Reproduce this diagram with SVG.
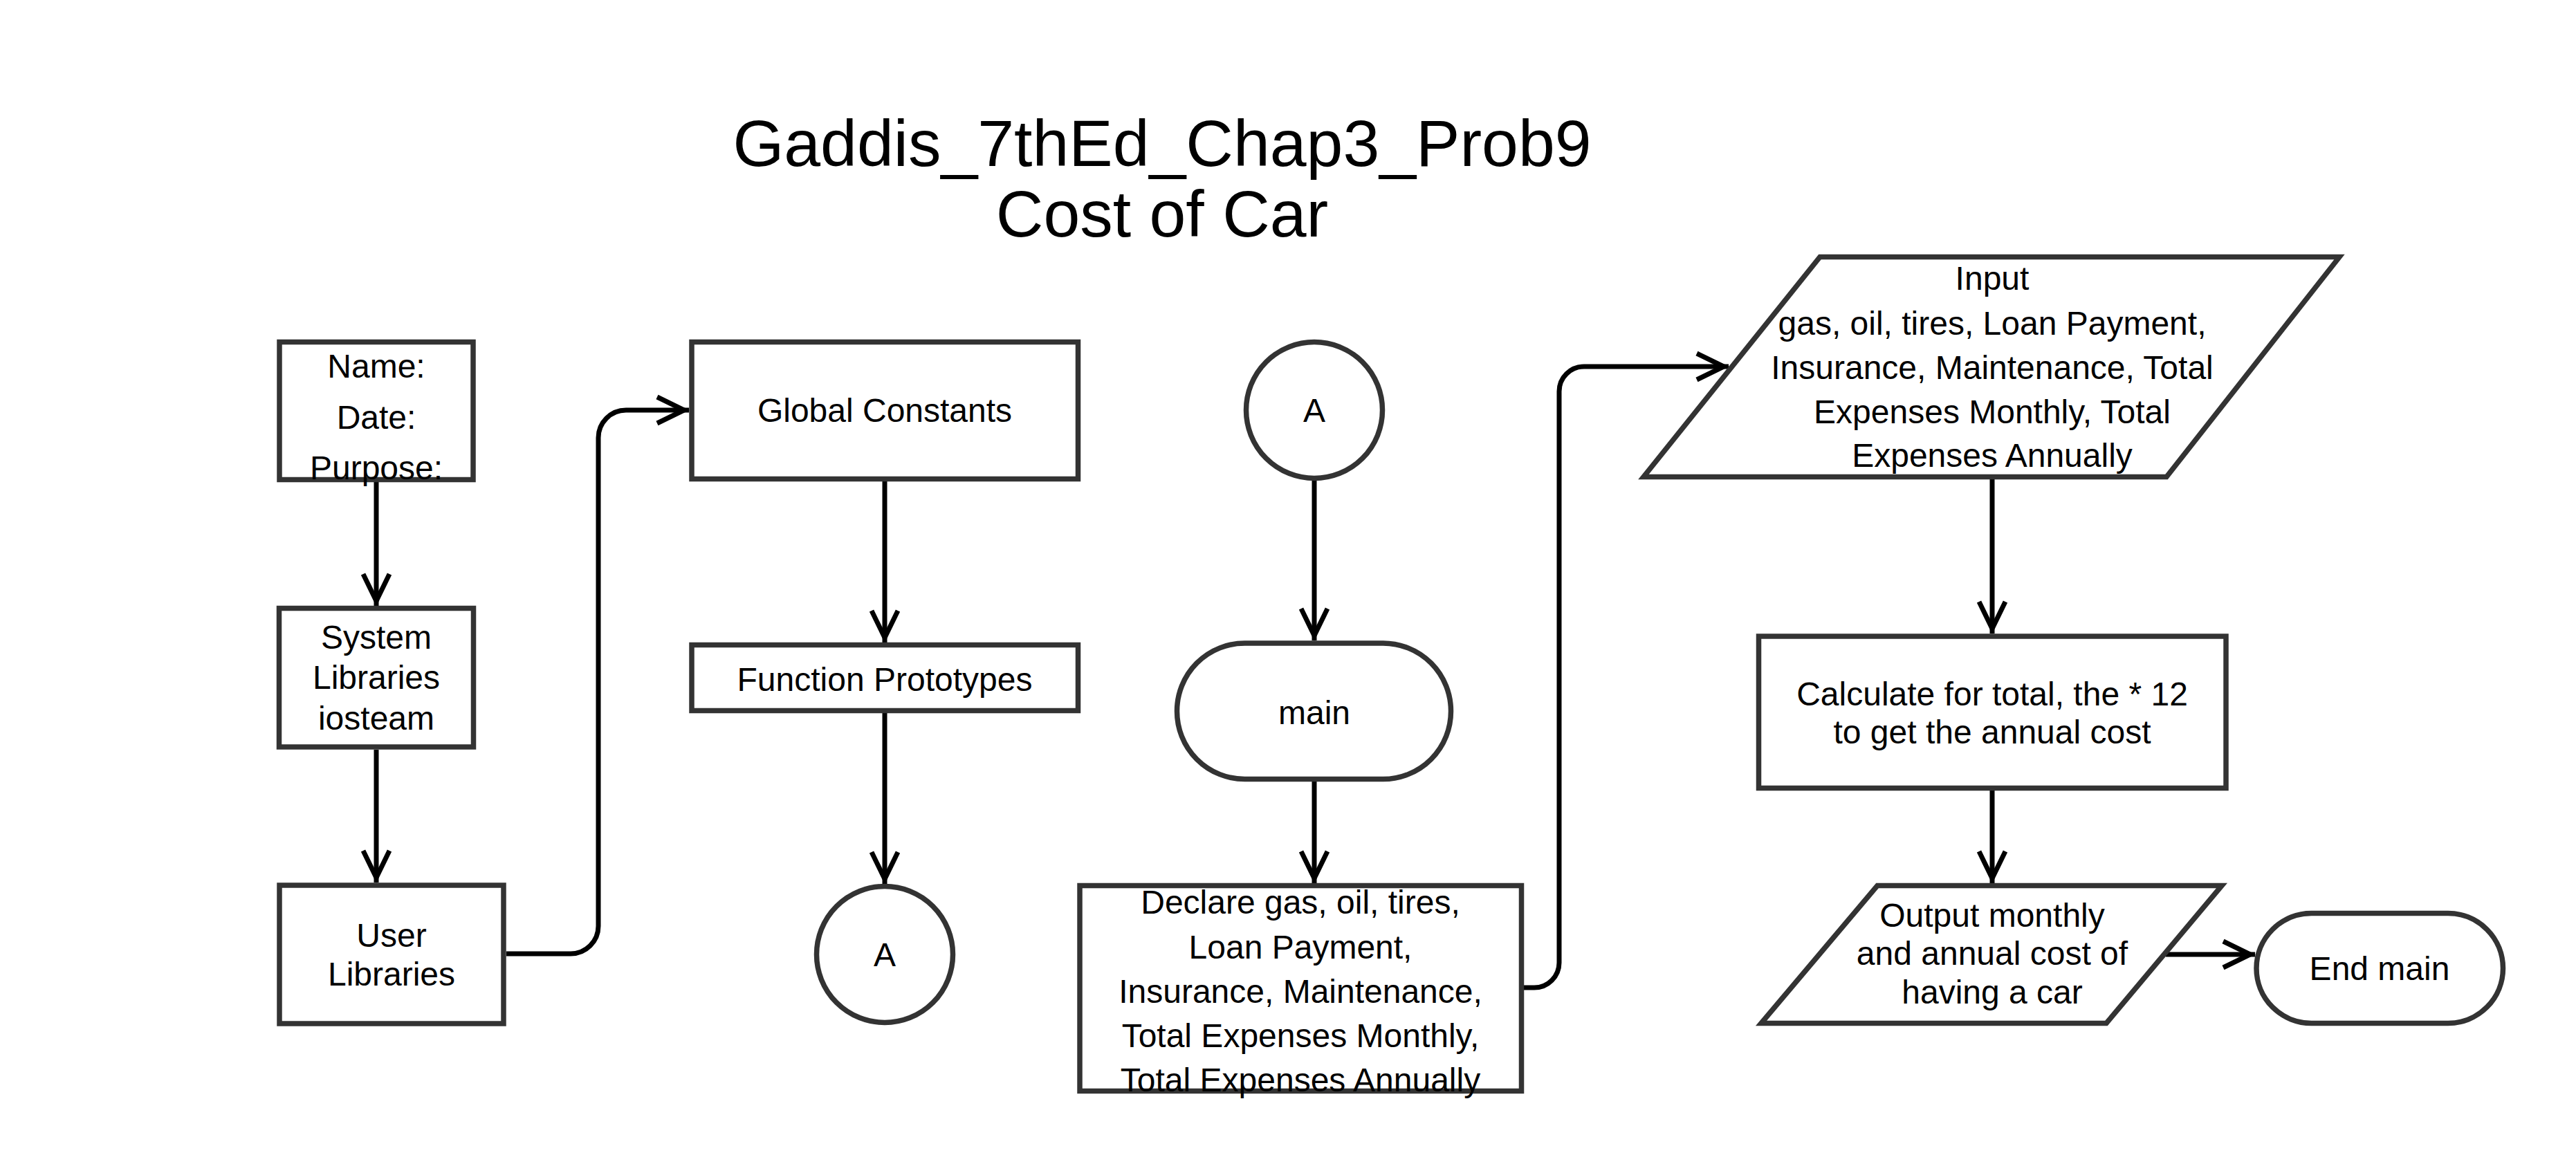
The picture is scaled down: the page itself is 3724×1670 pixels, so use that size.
<svg xmlns="http://www.w3.org/2000/svg" width="3724" height="1670" viewBox="0 0 3724 1670">
<defs>
<style>
.box{fill:#fff;stroke:#333;stroke-width:7.5}
.t{font-family:"Liberation Sans",Arial,Helvetica,sans-serif;font-size:48px;fill:#000;text-anchor:middle}
.title{font-family:"Liberation Sans",Arial,Helvetica,sans-serif;font-size:95px;fill:#000;text-anchor:middle}
.c{fill:none;stroke:#000;stroke-width:7;marker-end:url(#arr)}
</style>
<marker id="arr" markerUnits="userSpaceOnUse" viewBox="-50 -25 55 50" markerWidth="55" markerHeight="50" refX="0" refY="0" orient="auto" overflow="visible">
<path d="M-46,-19 L-7,0 L-46,19" fill="none" stroke="#000" stroke-width="7" stroke-linejoin="miter"/>
</marker>
</defs>
<rect width="3724" height="1670" fill="#fff"/>
<g id="title">
<text class="title" x="1680" y="240">Gaddis_7thEd_Chap3_Prob9</text>
<text class="title" x="1680" y="342">Cost of Car</text>
</g>
<g id="connectors">
<path class="c" d="M544,697 V876"/>
<path class="c" d="M544,1084 V1276"/>
<path class="c" d="M732,1379 H825 A40,40 0 0 0 865,1339 V633 A40,40 0 0 1 905,593 H996"/>
<path class="c" d="M1279,696 V929"/>
<path class="c" d="M1279,1031 V1278"/>
<path class="c" d="M1900,695 V926"/>
<path class="c" d="M1900,1130 V1277"/>
<path class="c" d="M2203,1428 H2218 A36,36 0 0 0 2254,1392 V566 A36,36 0 0 1 2290,530 H2499"/>
<path class="c" d="M2880,693 V916"/>
<path class="c" d="M2880,1143 V1277"/>
<path class="c" d="M3131,1380 H3260"/>
</g>
<g id="name">
<rect class="box" x="404" y="494.5" width="280" height="199"/>
<text class="t" x="544" y="546">Name:</text>
<text class="t" x="544" y="620">Date:</text>
<text class="t" x="544" y="693">Purpose:</text>
</g>
<g id="system">
<rect class="box" x="403.5" y="879.5" width="281" height="200.5"/>
<text class="t" x="544" y="938">System</text>
<text class="t" x="544" y="996">Libraries</text>
<text class="t" x="544" y="1055">iosteam</text>
</g>
<g id="user">
<rect class="box" x="404" y="1280" width="324" height="200"/>
<text class="t" x="566" y="1369">User</text>
<text class="t" x="566" y="1425">Libraries</text>
</g>
<g id="global">
<rect class="box" x="1000" y="494.5" width="558.5" height="198"/>
<text class="t" x="1279" y="610">Global Constants</text>
</g>
<g id="function">
<rect class="box" x="1000" y="932.5" width="558.5" height="95"/>
<text class="t" x="1279" y="999">Function Prototypes</text>
</g>
<g id="a1">
<circle class="box" cx="1279" cy="1380" r="98.5"/>
<text class="t" x="1279" y="1397">A</text>
</g>
<g id="a2">
<circle class="box" cx="1900" cy="593" r="98.5"/>
<text class="t" x="1900" y="610">A</text>
</g>
<g id="main">
<rect class="box" x="1701.5" y="930" width="396" height="196.5" rx="98" ry="98"/>
<text class="t" x="1900" y="1047">main</text>
</g>
<g id="declare">
<rect class="box" x="1561" y="1280.5" width="638.5" height="297"/>
<text class="t" x="1880" y="1321">Declare gas, oil, tires,</text>
<text class="t" x="1880" y="1386">Loan Payment,</text>
<text class="t" x="1880" y="1450">Insurance, Maintenance,</text>
<text class="t" x="1880" y="1514">Total Expenses Monthly,</text>
<text class="t" x="1880" y="1578">Total Expenses Annually</text>
</g>
<g id="input">
<polygon class="box" points="2631,371.5 3382,371.5 3132,689.5 2376,689.5"/>
<text class="t" x="2880" y="419">Input</text>
<text class="t" x="2880" y="484">gas, oil, tires, Loan Payment,</text>
<text class="t" x="2880" y="548">Insurance, Maintenance, Total</text>
<text class="t" x="2880" y="612">Expenses Monthly, Total</text>
<text class="t" x="2880" y="675">Expenses Annually</text>
</g>
<g id="calculate">
<rect class="box" x="2542.5" y="920" width="675.5" height="219.5"/>
<text class="t" x="2880" y="1020">Calculate for total, the * 12</text>
<text class="t" x="2880" y="1075">to get the annual cost</text>
</g>
<g id="output">
<polygon class="box" points="2714,1280.5 3212,1280.5 3045,1479.5 2546,1479.5"/>
<text class="t" x="2880" y="1340">Output monthly</text>
<text class="t" x="2880" y="1395">and annual cost of</text>
<text class="t" x="2880" y="1451">having a car</text>
</g>
<g id="end">
<rect class="box" x="3262" y="1320.5" width="356.5" height="159" rx="79.5" ry="79.5"/>
<text class="t" x="3440" y="1417">End main</text>
</g>
</svg>
